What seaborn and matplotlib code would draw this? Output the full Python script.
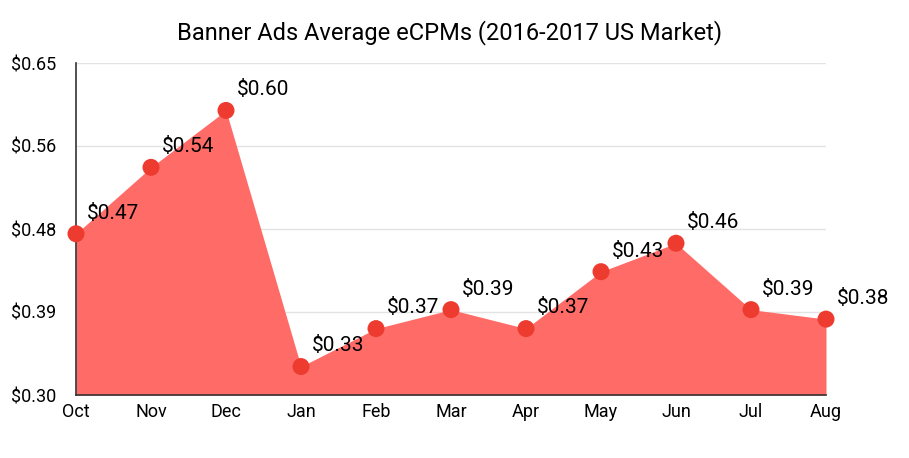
import numpy as np
import pandas as pd
import matplotlib
matplotlib.use("Agg")
import matplotlib.pyplot as plt
import seaborn as sns

# chart data
months = ["Oct", "Nov", "Dec", "Jan", "Feb", "Mar", "Apr", "May", "Jun", "Jul", "Aug"]
ecpm = [0.47, 0.54, 0.60, 0.33, 0.37, 0.39, 0.37, 0.43, 0.46, 0.39, 0.38]
y_ticks = [0.30, 0.3875, 0.475, 0.5625, 0.65]
y_tick_labels = ["$0.30", "$0.39", "$0.48", "$0.56", "$0.65"]
title = "Banner Ads Average eCPMs (2016-2017 US Market)"

df = pd.DataFrame({"month": months, "ecpm": ecpm})
df["x"] = np.arange(len(df))

sns.set_style("white")
plt.rcParams["font.family"] = ["Roboto", "DejaVu Sans"]

fig = plt.figure(figsize=(9.09, 4.58), dpi=100)
ax = fig.add_axes([76 / 909, 63 / 458, 750 / 909, 332 / 458])

fill_color = "#ff6b66"
dot_color = "#ee3b2f"

ax.fill_between(df["x"], 0.30, df["ecpm"], color=fill_color, linewidth=0, zorder=2)
sns.scatterplot(data=df, x="x", y="ecpm", color=dot_color, s=150, edgecolor="none",
                ax=ax, zorder=3, clip_on=False)

for _, row in df.iterrows():
    ax.annotate(f"${row['ecpm']:.2f}", (row["x"], row["ecpm"]), xytext=(8, 8),
                textcoords="offset points", ha="left", va="bottom",
                fontsize=15, color="black", zorder=4)

ax.set_xlim(0, len(months) - 1)
ax.set_ylim(0.30, 0.65)
ax.set_xticks(df["x"])
ax.set_xticklabels(months)
ax.set_yticks(y_ticks)
ax.set_yticklabels(y_tick_labels)
ax.tick_params(axis="both", length=0, labelsize=13, labelcolor="black")
ax.tick_params(axis="y", pad=14)
ax.tick_params(axis="x", pad=6)
ax.set_xlabel("")
ax.set_ylabel("")

ax.grid(axis="y", color="#e3e3e3", linewidth=1, zorder=0)
ax.grid(axis="x", visible=False)
for side in ["top", "right"]:
    ax.spines[side].set_visible(False)
ax.spines["left"].set_color("#333333")
ax.spines["bottom"].set_color("#333333")
ax.spines["left"].set_linewidth(1.2)
ax.spines["bottom"].set_linewidth(1.2)

fig.text(0.495, 0.93, title, ha="center", va="center", fontsize=17, color="black")

fig.savefig("out.png", dpi=100)
